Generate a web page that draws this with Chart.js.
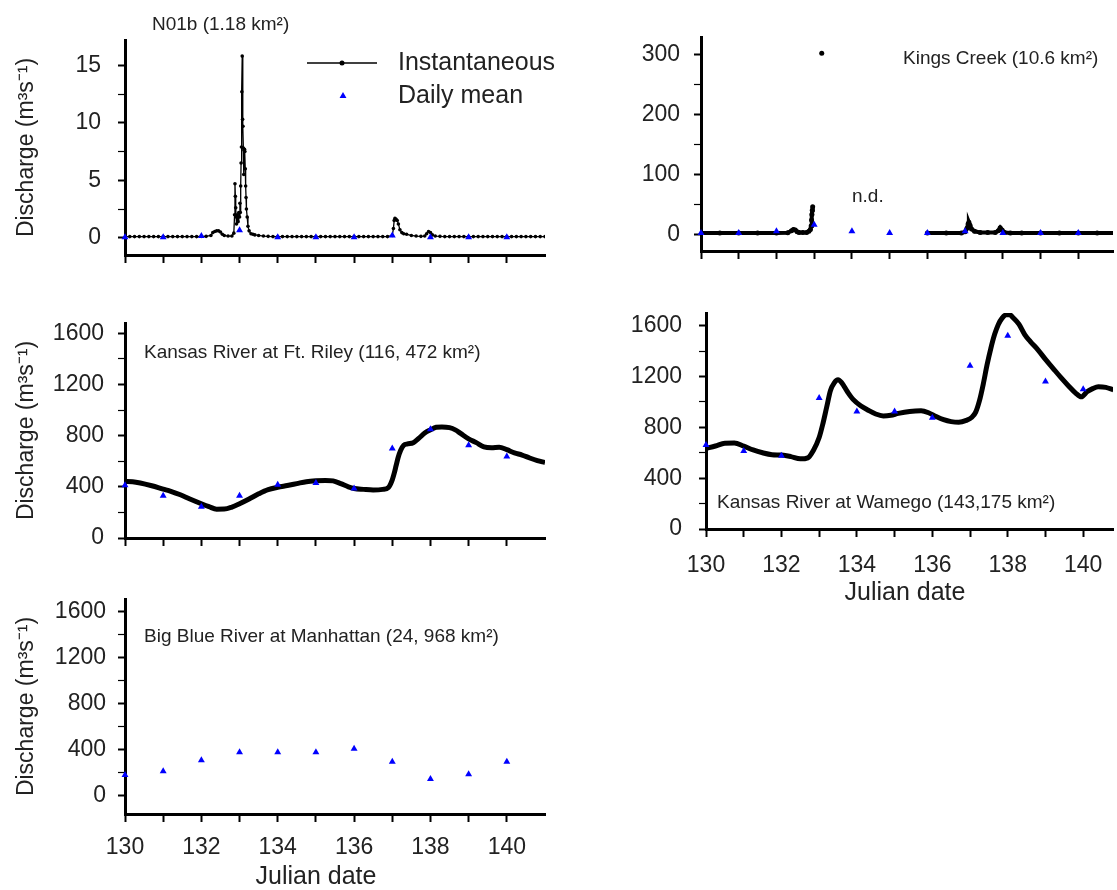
<!DOCTYPE html>
<html>
<head>
<meta charset="utf-8">
<title>Discharge, Julian days 130-141</title>
<script src="https://cdn.jsdelivr.net/npm/chart.js@4.4.1/dist/chart.umd.min.js"></script>
<style>
    html, body { margin: 0; padding: 0; background: #fff; overflow: hidden; }
    body { width: 1117px; height: 890px; position: relative; }
    canvas { position: absolute; }
</style>
</head>
<body>
<canvas id="n01b" width="560" height="270" style="left:0;top:0"></canvas>
<canvas id="kings" width="557" height="270" style="left:560px;top:0"></canvas>
<canvas id="riley" width="560" height="270" style="left:0;top:290px"></canvas>
<canvas id="wamego" width="557" height="330" style="left:560px;top:290px"></canvas>
<canvas id="bigblue" width="560" height="310" style="left:0;top:580px"></canvas>

<script>
const FONT = '"Liberation Sans", Arial, Helvetica, sans-serif';
const INK = '#222';
const BLUE = '#0000ff';

Chart.defaults.font.family = FONT;

// axis ticks
const dayTicks = [130, 131, 132, 133, 134, 135, 136, 137, 138, 139, 140];
const dayLabels = [130, 132, 134, 136, 138, 140];
const n01bTicks = [0, 2.5, 5, 7.5, 10, 12.5, 15];
const n01bLabels = [0, 5, 10, 15];
const kingsTicks = [0, 50, 100, 150, 200, 250, 300];
const kingsLabels = [0, 100, 200, 300];
const riverTicks = [0, 200, 400, 600, 800, 1000, 1200, 1400, 1600];
const riverLabels = [0, 400, 800, 1200, 1600];

// daily means (m3/s)
const meanDays = [130, 131, 132, 133, 134, 135, 136, 137, 138, 139, 140];
const n01bMean = [0.05, 0.05, 0.15, 0.65, 0.05, 0.05, 0.05, 0.2, 0.05, 0.05, 0.05];
const kingsMean = [2, 2, 5, 16, 5, 2, 2, 5, 2, 2, 2];
const rileyMean = [413, 330, 244, 330, 416, 429, 387, 699, 850, 725, 637];
const wamegoMean = [661, 613, 576, 1032, 924, 924, 876, 1284, 1521, 1161, 1100];
const bigBlueMean = [183, 215, 311, 381, 381, 381, 410, 297, 148, 189, 297];

// instantaneous discharge
const n01bTime = [
    130, 130.125, 130.25, 130.375, 130.5, 130.625, 130.75, 130.875,
    131, 131.125, 131.25, 131.375, 131.5, 131.625, 131.75, 131.875,
    132, 132.125, 132.25, 132.3, 132.35, 132.4, 132.45, 132.5, 132.55, 132.6, 132.7, 132.8,
    132.85, 132.87, 132.88, 132.89, 132.9, 132.91, 132.92, 132.94, 132.96, 132.98,
    133, 133.01, 133.02, 133.03, 133.04, 133.05, 133.06, 133.07, 133.08, 133.09,
    133.1, 133.11, 133.12, 133.13, 133.14, 133.15, 133.16, 133.17, 133.18, 133.2,
    133.22, 133.25, 133.3, 133.35, 133.4, 133.5, 133.625, 133.75, 133.875,
    134, 134.125, 134.25, 134.375, 134.5, 134.625, 134.75, 134.875,
    135, 135.125, 135.25, 135.375, 135.5, 135.625, 135.75, 135.875,
    136, 136.125, 136.25, 136.375, 136.5, 136.625, 136.75, 136.875,
    137, 137.03, 137.05, 137.07, 137.1, 137.13, 137.16, 137.2, 137.25, 137.3,
    137.375, 137.5, 137.625, 137.75, 137.85, 137.9, 137.95, 138, 138.05, 138.125,
    138.25, 138.375, 138.5, 138.625, 138.75, 138.875,
    139, 139.125, 139.25, 139.375, 139.5, 139.625, 139.75, 139.875,
    140, 140.125, 140.25, 140.375, 140.5, 140.625, 140.75, 140.875, 141
];
const n01bFlow = [
    0.1, 0.1, 0.1, 0.1, 0.1, 0.1, 0.1, 0.1,
    0.1, 0.1, 0.1, 0.1, 0.1, 0.1, 0.1, 0.1,
    0.12, 0.12, 0.2, 0.45, 0.55, 0.6, 0.6, 0.5, 0.3, 0.2, 0.15, 0.15,
    0.4, 2.0, 4.7, 3.6, 2.6, 1.8, 1.2, 2.0, 1.4, 2.2,
    1.8, 3.0, 2.2, 4.5, 6.5, 7.9, 12.7, 15.8, 10.3, 9.7,
    7.8, 5.5, 7.6, 7.7, 7.5, 6.0, 4.5, 3.5, 2.5, 1.8,
    1.0, 0.6, 0.35, 0.3, 0.25, 0.2, 0.15, 0.12, 0.1,
    0.1, 0.1, 0.1, 0.1, 0.1, 0.1, 0.1, 0.1,
    0.1, 0.1, 0.1, 0.1, 0.1, 0.1, 0.1, 0.1,
    0.1, 0.1, 0.1, 0.1, 0.1, 0.1, 0.1, 0.1,
    0.2, 0.8, 1.5, 1.7, 1.6, 1.5, 1.2, 0.7, 0.45, 0.35,
    0.3, 0.2, 0.15, 0.12, 0.15, 0.35, 0.55, 0.45, 0.25, 0.15,
    0.12, 0.1, 0.1, 0.1, 0.1, 0.1,
    0.1, 0.1, 0.1, 0.1, 0.1, 0.1, 0.1, 0.1,
    0.1, 0.1, 0.1, 0.1, 0.1, 0.1, 0.1, 0.1, 0.1
];

// null = no data (n.d.)
const kingsTime = [
    130, 130.5, 131, 131.5, 132, 132.3, 132.4, 132.45, 132.5, 132.55, 132.6, 132.7, 132.8,
    132.86, 132.9, 132.92, 132.93, 132.94, 132.95, 132.96, 133.05, 133.2, 133.3,
    136, 136.5, 136.9, 137, 137.05, 137.08, 137.1, 137.13, 137.17, 137.25,
    137.4, 137.6, 137.8, 137.88, 137.93, 137.98, 138.05,
    138.2, 138.5, 139, 139.5, 140, 140.5, 141
];
const kingsFlow = [
    2, 2, 2, 2, 2, 2.5, 6, 8, 7, 4, 3, 3, 3,
    5, 8, 14, 24, 33, 40, 46, null, 303, null,
    2, 2, 2, 4, 10, 17, 20, 15, 9, 5,
    3, 3, 3, 6, 11, 7, 3,
    2, 2, 2, 2, 2, 2, 2
];

const rileyTime = [
    130.0, 130.2, 130.4, 130.7, 131.0, 131.2, 131.45, 131.7, 132.0, 132.2,
    132.4, 132.6, 132.8, 133.0, 133.25, 133.5, 133.75, 134.0, 134.25, 134.5,
    134.75, 135.0, 135.25, 135.45, 135.65, 135.85, 136.0, 136.25, 136.5, 136.75,
    136.9, 137.0, 137.05, 137.1, 137.15, 137.22, 137.3, 137.4, 137.55, 137.7,
    137.85, 138.0, 138.15, 138.3, 138.5, 138.65, 138.8, 139.0, 139.2, 139.4,
    139.6, 139.8, 140.0, 140.2, 140.4, 140.6, 140.8, 141.0
];
const rileyFlow = [
    442, 440, 430, 408, 382, 365, 338, 305, 268, 245,
    225, 226, 242, 268, 305, 345, 378, 396, 410, 425,
    440, 447, 450, 446, 425, 400, 387, 380, 375, 380,
    395, 455, 505, 565, 625, 685, 725, 735, 745, 780,
    820, 845, 865, 868, 862, 845, 815, 775, 745, 712,
    705, 710, 690, 665, 648, 625, 605, 590
];

const wamegoTime = [
    130.0, 130.25, 130.5, 130.75, 131.0, 131.25, 131.5, 131.75, 132.0, 132.25,
    132.5, 132.7, 132.85, 133.0, 133.1, 133.2, 133.3, 133.4, 133.5, 133.6,
    133.75, 133.9, 134.1, 134.3, 134.5, 134.7, 134.9, 135.1, 135.4, 135.7,
    135.9, 136.1, 136.3, 136.5, 136.7, 136.9, 137.05, 137.15, 137.25, 137.35,
    137.45, 137.55, 137.65, 137.75, 137.85, 137.95, 138.05, 138.15, 138.3, 138.45,
    138.6, 138.8, 139.0, 139.2, 139.4, 139.6, 139.8, 139.95, 140.1, 140.25,
    140.4, 140.6, 140.8
];
const wamegoFlow = [
    634, 653, 675, 676, 652, 622, 600, 585, 582, 570,
    552, 560, 620, 720, 830, 960, 1090, 1150, 1174, 1150,
    1080, 1020, 970, 935, 905, 890, 895, 910, 925, 930,
    915, 885, 860, 845, 840, 855, 880, 920, 1010, 1140,
    1290, 1420, 1530, 1610, 1660, 1685, 1687, 1660, 1610, 1530,
    1475, 1410, 1335, 1265, 1195, 1130, 1070, 1040, 1080, 1105,
    1120, 1115, 1095
];

function toPoints(xs, ys) {
    return xs.map(function (x, i) { return { x: x, y: ys[i] }; });
}

function dailyMean(values) {
    return {
        label: 'Daily mean',
        data: toPoints(meanDays, values),
        showLine: false,
        pointStyle: 'triangle',
        pointRadius: 4,
        pointBackgroundColor: BLUE,
        pointBorderColor: BLUE,
        pointBorderWidth: 0,
        clip: false,
        order: 0
    };
}

function instantaneous(xs, ys, width, radius, smooth) {
    return {
        label: 'Instantaneous',
        data: toPoints(xs, ys),
        borderColor: '#000',
        borderWidth: width,
        pointRadius: radius,
        pointBackgroundColor: '#000',
        pointBorderWidth: 0,
        cubicInterpolationMode: smooth ? 'monotone' : 'default',
        tension: 0,
        spanGaps: false,
        order: 1
    };
}

// free text, legend sample and labels placed relative to the plot area
const notesPlugin = {
    id: 'notes',
    afterDraw(chart, args, opts) {
        const ctx = chart.ctx;
        const area = chart.chartArea;
        (opts.items || []).forEach(function (n) {
            const x = area.left + n.x;
            const y = area.top + n.y;
            ctx.save();
            if (n.kind === 'line') {
                ctx.strokeStyle = '#000';
                ctx.lineWidth = 1.5;
                ctx.beginPath();
                ctx.moveTo(x, y);
                ctx.lineTo(x + n.w, y);
                ctx.stroke();
                ctx.fillStyle = '#000';
                ctx.beginPath();
                ctx.arc(x + n.w / 2, y, 2.5, 0, Math.PI * 2);
                ctx.fill();
            } else if (n.kind === 'triangle') {
                const r = 4;
                ctx.fillStyle = BLUE;
                ctx.beginPath();
                ctx.moveTo(x, y - r);
                ctx.lineTo(x + r * Math.sin(2 * Math.PI / 3), y - r * Math.cos(2 * Math.PI / 3));
                ctx.lineTo(x + r * Math.sin(4 * Math.PI / 3), y - r * Math.cos(4 * Math.PI / 3));
                ctx.closePath();
                ctx.fill();
            } else {
                ctx.font = n.size + 'px ' + FONT;
                ctx.fillStyle = INK;
                ctx.textAlign = n.align || 'left';
                ctx.textBaseline = 'middle';
                ctx.fillText(n.text, x, y);
            }
            ctx.restore();
        });
    }
};

function panelOptions(p) {
    return {
        responsive: false,
        animation: false,
        events: [],
        layout: { padding: p.padding },
        scales: {
            x: {
                type: 'linear',
                min: 130,
                max: p.xMax,
                afterBuildTicks: function (s) { s.ticks = dayTicks.map(function (v) { return { value: v }; }); },
                afterFit: function (s) { s.height = p.xHeight; s.paddingLeft = 0; s.paddingRight = 0; },
                ticks: {
                    autoSkip: false,
                    maxRotation: 0,
                    padding: p.xPad,
                    color: INK,
                    font: { size: 23 },
                    callback: function (v) { return p.xLabels.includes(v) ? String(v) : ''; }
                },
                grid: { drawOnChartArea: false, tickLength: 8, tickColor: '#000', tickWidth: 2 },
                border: { color: '#000', width: 3 }
            },
            y: {
                type: 'linear',
                min: p.yMin,
                max: p.yMax,
                afterBuildTicks: function (s) { s.ticks = p.yTicks.map(function (v) { return { value: v }; }); },
                afterFit: function (s) { s.width = p.yWidth; s.paddingTop = 0; s.paddingBottom = 0; },
                ticks: {
                    autoSkip: false,
                    padding: p.yPad,
                    color: INK,
                    font: { size: 23 },
                    callback: function (v) { return p.yLabels.includes(v) ? String(v) : ''; }
                },
                grid: {
                    drawOnChartArea: false,
                    tickLength: 7,
                    tickColor: '#000',
                    tickWidth: function (c) { return (c.tick && p.yLabels.includes(c.tick.value)) ? 2 : 1.2; }
                },
                border: { color: '#000', width: 3 },
                title: p.yTitle ? {
                    display: true,
                    text: 'Discharge (m³s⁻¹)',
                    color: INK,
                    font: { size: 23 },
                    padding: { top: 13, bottom: 0 }
                } : { display: false }
            }
        },
        plugins: {
            legend: { display: false },
            tooltip: { enabled: false },
            notes: { items: p.notes }
        }
    };
}

new Chart(document.getElementById('n01b'), {
    type: 'line',
    data: {
        datasets: [
            instantaneous(n01bTime, n01bFlow, 1.3, 1.8, false),
            dailyMean(n01bMean)
        ]
    },
    options: panelOptions({
        padding: { left: 0, top: 40, right: 15, bottom: 0 },
        xMax: 141, xHeight: 15, xPad: 4, xLabels: [],
        yMin: -1.5, yMax: 17.2, yTicks: n01bTicks, yLabels: n01bLabels,
        yWidth: 125, yPad: 17, yTitle: true,
        notes: [
            { text: 'N01b (1.18 km²)', x: 27, y: -15, size: 19 },
            { kind: 'line', x: 182, y: 23, w: 70 },
            { text: 'Instantaneous', x: 273, y: 23, size: 25 },
            { kind: 'triangle', x: 218, y: 56 },
            { text: 'Daily mean', x: 273, y: 56, size: 25 }
        ]
    }),
    plugins: [notesPlugin]
});

new Chart(document.getElementById('kings'), {
    type: 'line',
    data: {
        datasets: [
            instantaneous(kingsTime, kingsFlow, 4, 2.5, false),
            dailyMean(kingsMean)
        ]
    },
    options: panelOptions({
        padding: { left: 0, top: 37, right: 0, bottom: 0 },
        xMax: 140.92, xHeight: 19, xPad: 4, xLabels: [],
        yMin: -28, yMax: 330, yTicks: kingsTicks, yLabels: kingsLabels,
        yWidth: 141, yPad: 14, yTitle: false,
        notes: [
            { text: 'Kings Creek (10.6 km²)', x: 202, y: 22, size: 19 },
            { text: 'n.d.', x: 151, y: 160, size: 19 }
        ]
    }),
    plugins: [notesPlugin]
});

new Chart(document.getElementById('riley'), {
    type: 'line',
    data: {
        datasets: [
            instantaneous(rileyTime, rileyFlow, 5, 0, true),
            dailyMean(rileyMean)
        ]
    },
    options: panelOptions({
        padding: { left: 0, top: 33, right: 15, bottom: 0 },
        xMax: 141, xHeight: 22, xPad: 4, xLabels: [],
        yMin: 0, yMax: 1680, yTicks: riverTicks, yLabels: riverLabels,
        yWidth: 125, yPad: 14, yTitle: true,
        notes: [
            { text: 'Kansas River at Ft. Riley (116, 472 km²)', x: 19, y: 30, size: 19 }
        ]
    }),
    plugins: [notesPlugin]
});

new Chart(document.getElementById('wamego'), {
    type: 'line',
    data: {
        datasets: [
            instantaneous(wamegoTime, wamegoFlow, 5, 0, true),
            dailyMean(wamegoMean)
        ]
    },
    options: panelOptions({
        padding: { left: 0, top: 23, right: 0, bottom: 0 },
        xMax: 140.79, xHeight: 91, xPad: 15, xLabels: dayLabels,
        yMin: 0, yMax: 1700, yTicks: riverTicks, yLabels: riverLabels,
        yWidth: 146, yPad: 17, yTitle: false,
        notes: [
            { text: 'Kansas River at Wamego (143,175 km²)', x: 11, y: 190, size: 19 },
            { text: 'Julian date', x: 199, y: 280, size: 25, align: 'center' }
        ]
    }),
    plugins: [notesPlugin]
});

new Chart(document.getElementById('bigblue'), {
    type: 'line',
    data: {
        datasets: [
            dailyMean(bigBlueMean)
        ]
    },
    options: panelOptions({
        padding: { left: 0, top: 19, right: 15, bottom: 0 },
        xMax: 141, xHeight: 76, xPad: 12, xLabels: dayLabels,
        yMin: -157, yMax: 1713, yTicks: riverTicks, yLabels: riverLabels,
        yWidth: 125, yPad: 12, yTitle: true,
        notes: [
            { text: 'Big Blue River at Manhattan (24, 968 km²)', x: 19, y: 38, size: 19 },
            { text: 'Julian date', x: 191, y: 278, size: 25, align: 'center' }
        ]
    }),
    plugins: [notesPlugin]
});
</script>
</body>
</html>
